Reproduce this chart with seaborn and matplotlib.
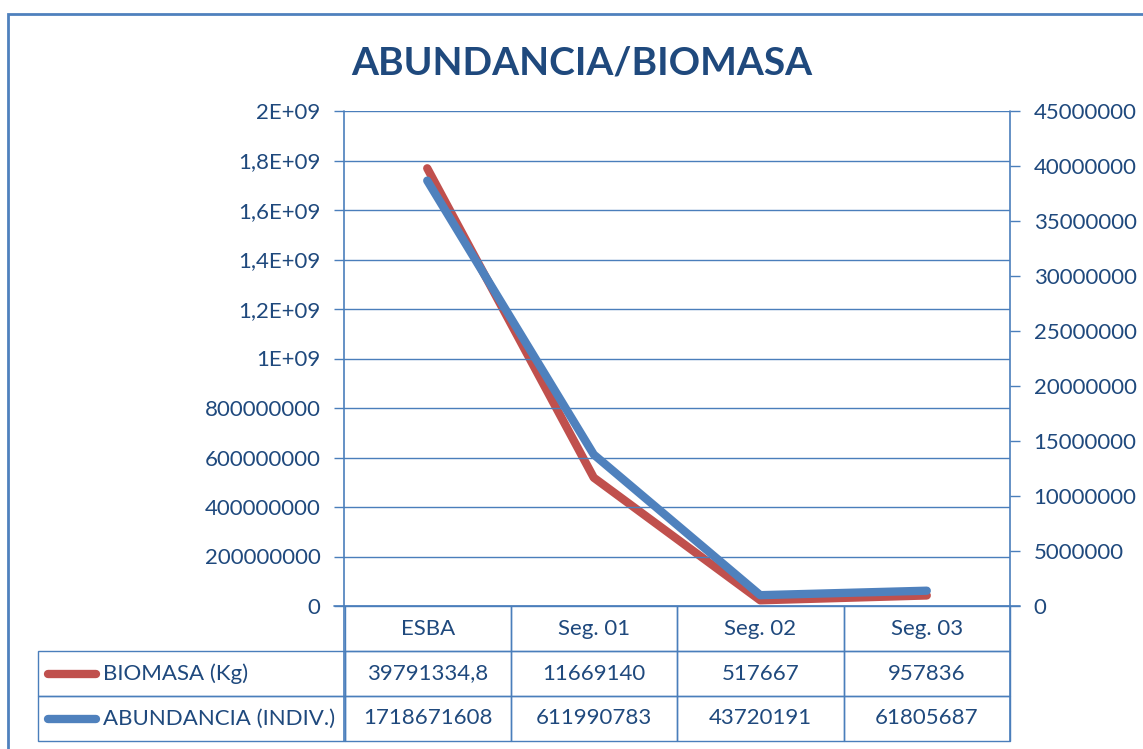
import matplotlib
matplotlib.use("Agg")
import matplotlib.pyplot as plt
import seaborn as sns
import pandas as pd
from matplotlib.patches import Rectangle

categories = ["ESBA", "Seg. 01", "Seg. 02", "Seg. 03"]
biomasa = [39791334.8, 11669140, 517667, 957836]
abundancia = [1718671608, 611990783, 43720191, 61805687]
biomasa_txt = ["39791334,8", "11669140", "517667", "957836"]
abundancia_txt = ["1718671608", "611990783", "43720191", "61805687"]
series_names = ["BIOMASA (Kg)", "ABUNDANCIA (INDIV.)"]
left_ticks = [0, 2e8, 4e8, 6e8, 8e8, 1e9, 1.2e9, 1.4e9, 1.6e9, 1.8e9, 2e9]
left_labels = ["0", "200000000", "400000000", "600000000", "800000000",
               "1E+09", "1,2E+09", "1,4E+09", "1,6E+09", "1,8E+09", "2E+09"]
right_ticks = [0, 5e6, 10e6, 15e6, 20e6, 25e6, 30e6, 35e6, 40e6, 45e6]
right_labels = ["0", "5000000", "10000000", "15000000", "20000000", "25000000",
                "30000000", "35000000", "40000000", "45000000"]
title = "ABUNDANCIA/BIOMASA"

RED = "#C0504D"
BLUE = "#4F81BD"
EDGE = "#4A7EBB"
TXT = "#1F497D"

sns.set_theme(style="white")
plt.rcParams["font.family"] = ["Lato", "DejaVu Sans"]

W, H = 1143, 749
fig = plt.figure(figsize=(W / 100, H / 100), dpi=100)
ax = fig.add_axes([344 / W, 1 - 606 / H, 666 / W, 495 / H])
ax2 = ax.twinx()

df = pd.DataFrame({"cat": categories, "bio": biomasa, "abu": abundancia})

# red on right axis (drawn behind), blue on left axis (on top)
ax.set_zorder(ax2.get_zorder() + 1)
ax.patch.set_visible(False)
sns.lineplot(data=df, x="cat", y="bio", ax=ax2, color=RED, linewidth=6,
             solid_capstyle="round", solid_joinstyle="round", sort=False)
sns.lineplot(data=df, x="cat", y="abu", ax=ax, color=BLUE, linewidth=6,
             solid_capstyle="round", solid_joinstyle="round", sort=False)

ax.set_xlim(-0.5, 3.5)
ax.set_ylim(0, 2e9)
ax2.set_ylim(0, 45e6)
ax.set_xlabel("")
ax.set_ylabel("")
ax2.set_ylabel("")
ax.set_xticks([])
ax2.set_xticks([])

ax.set_yticks(left_ticks)
ax.set_yticklabels(left_labels)
ax2.set_yticks(right_ticks)
ax2.set_yticklabels(right_labels)
for a in (ax, ax2):
    a.tick_params(axis="y", length=7, width=1, color=EDGE, labelsize=16,
                  labelcolor=TXT, pad=10)
    a.grid(False)
    for s in a.spines.values():
        s.set_visible(False)
ax.tick_params(axis="y", left=True)
ax2.tick_params(axis="y", right=True)

for t in left_ticks:
    ax.axhline(t, color=EDGE, linewidth=1, zorder=0)

# vertical axis lines through plot and table
for xf in (0.0, 1.0):
    ax.plot([xf, xf], [-135 / 495, 1.0], transform=ax.transAxes,
            color=EDGE, linewidth=1.2, clip_on=False, zorder=1)
ax.plot([-10 / 666, 1 + 10 / 666], [0, 0], transform=ax.transAxes,
        color=EDGE, linewidth=1.2, clip_on=False, zorder=1)

# data table
cell_text = [[""] + categories,
             [series_names[0]] + biomasa_txt,
             [series_names[1]] + abundancia_txt]
lab_w = 306 / 972
col_w = 166 / 972
tbl = ax.table(cellText=cell_text,
               colWidths=[lab_w] + [col_w] * 4,
               bbox=[-306 / 666, -135 / 495, 972 / 666, 135 / 495],
               cellLoc="center")
tbl.auto_set_font_size(False)
for (r, c), cell in tbl.get_celld().items():
    cell.set_edgecolor(EDGE)
    cell.set_linewidth(1)
    cell.set_facecolor("none")
    cell.get_text().set_color(TXT)
    cell.get_text().set_fontsize(16)
    if r == 0 and c == 0:
        cell.visible_edges = ""
    if c == 0 and r > 0:
        cell.get_text().set_horizontalalignment("left")
        cell.PAD = 65 / 306

# legend keys in label cells
for yc, col in ((-67.5 / 495, RED), (-112.5 / 495, BLUE)):
    ax.plot([-296 / 666, -248 / 666], [yc, yc], transform=ax.transAxes,
            color=col, linewidth=6, solid_capstyle="round", clip_on=False)

fig.text(582 / W, 1 - 63 / H, title, ha="center", va="center",
         fontsize=28, fontweight="bold", color=TXT)

fig.patches.append(Rectangle((8 / W, -0.05), 1.2, 1 - 14 / H + 0.05,
                             transform=fig.transFigure, fill=False,
                             edgecolor=BLUE, linewidth=2))

fig.savefig("out.png", dpi=100)
